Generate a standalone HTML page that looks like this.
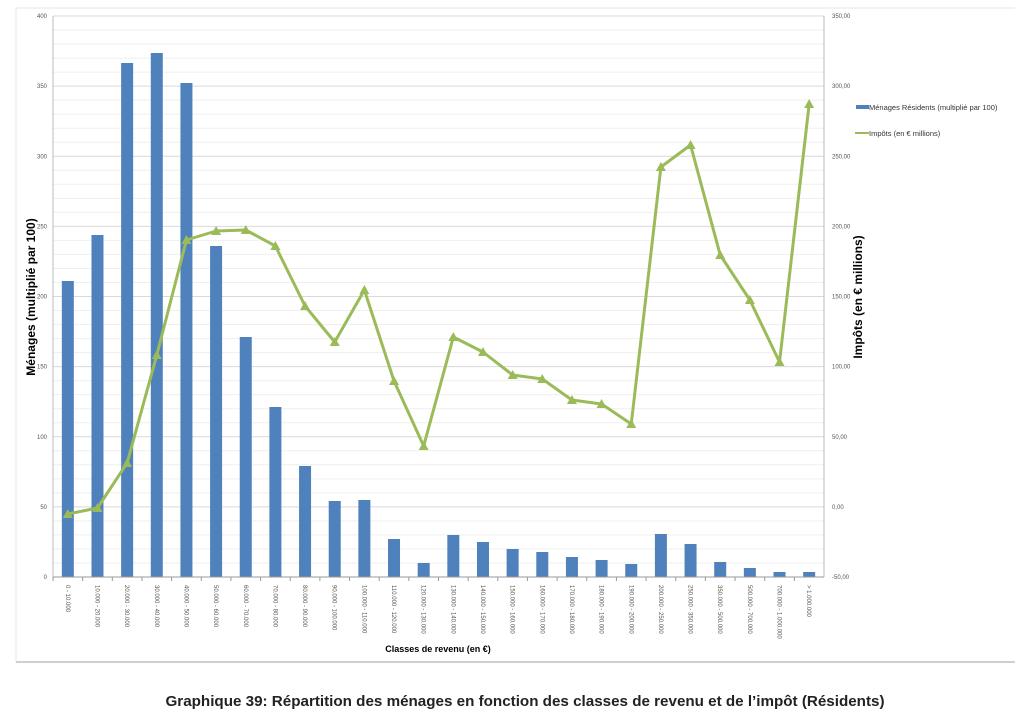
<!DOCTYPE html>
<html><head><meta charset="utf-8"><style>body{margin:0;background:#fff}svg{display:block}</style></head><body>
<svg width="1024" height="721" xmlns="http://www.w3.org/2000/svg" font-family="Liberation Sans, sans-serif">
<rect x="0" y="0" width="1024" height="721" fill="#fff"/>
<line x1="16" y1="8" x2="1015" y2="8" stroke="#e4e4e4"/>
<line x1="16" y1="8" x2="16" y2="662" stroke="#e4e4e4"/>
<line x1="16" y1="662" x2="1015" y2="662" stroke="#cfcfcf" stroke-width="2"/>
<g id="grid"></g>
<g id="bars"></g>
<line x1="53" y1="16" x2="53" y2="577" stroke="#bbb"/>
<line x1="824" y1="16" x2="824" y2="577" stroke="#bbb"/>
<line x1="53" y1="577" x2="824" y2="577" stroke="#999"/>
<g id="ticks" font-size="6" fill="#555"></g>
<polyline id="line" fill="none" stroke="#9bbb59" stroke-width="3" stroke-linejoin="round"/>
<g id="marks" fill="#9bbb59"></g>
<text transform="translate(35,297) rotate(-90)" text-anchor="middle" font-size="12" font-weight="bold">Ménages (multiplié par 100)</text>
<text transform="translate(862,297) rotate(-90)" text-anchor="middle" font-size="12" font-weight="bold">Impôts (en € millions)</text>
<text x="438" y="652" text-anchor="middle" font-size="9" font-weight="bold">Classes de revenu (en €)</text>
<rect x="856" y="105" width="13" height="4" fill="#4f81bd"/>
<text x="869" y="110" font-size="7.5" fill="#333">Ménages Résidents (multiplié par 100)</text>
<line x1="855" y1="133" x2="869" y2="133" stroke="#9bbb59" stroke-width="2"/>
<text x="869" y="136" font-size="7.5" fill="#333">Impôts (en € millions)</text>
<text x="525" y="706" text-anchor="middle" font-size="15.2" font-weight="bold" fill="#222">Graphique 39: Répartition des ménages en fonction des classes de revenu et de l’impôt (Résidents)</text>
<script>
(function(){
var ns="http://www.w3.org/2000/svg";
function el(p,t,a,txt){var e=document.createElementNS(ns,t);for(var k in a)e.setAttribute(k,a[k]);if(txt!=null)e.textContent=txt;document.getElementById(p).appendChild(e);}
var yt=16,bot=577,h=bot-yt;
for(var i=0;i<=40;i++){var y=bot-h*i/40;el("grid","line",{x1:53,x2:824,y1:y,y2:y,stroke:i%5==0?"#d9d9d9":"#efefef"});}
for(var i=0;i<=8;i++){var y=bot-h*i/8;
el("ticks","text",{x:47,y:y+2,"text-anchor":"end"},String(i*50));
el("ticks","text",{x:832,y:y+2},((i*50-50).toFixed(2)).replace(".",","));}
var labs=["0 - 10.000","10.000 - 20.000","20.000 - 30.000","30.000 - 40.000","40.000 - 50.000","50.000 - 60.000","60.000 - 70.000","70.000 - 80.000","80.000 - 90.000","90.000 - 100.000","100.000 - 110.000","110.000 - 120.000","120.000 - 130.000","130.000 - 140.000","140.000 - 150.000","150.000 - 160.000","160.000 - 170.000","170.000 - 180.000","180.000 - 190.000","190.000 - 200.000","200.000 - 250.000","250.000 - 350.000","350.000 - 500.000","500.000 - 700.000","700.000 - 1.000.000","> 1.000.000"];
var bt=[281,235,63,53,83,246,337,407,466,501,500,539,563,535,542,549,552,557,560,564,534,544,562,568,572,572];
var ly=[514,508,463,355,240,231,230,246,306,342,290,381,446,337,352,375,379,400,404,424,167,145,255,300,362,104];
var w=771/26,pts=[];
for(var i=0;i<26;i++){var cx=53+w*(i+0.5);
el("bars","rect",{x:cx-6,y:bt[i],width:12,height:bot-bt[i],fill:"#4f81bd"});
el("ticks","line",{x1:53+w*i,x2:53+w*i,y1:577,y2:581,stroke:"#999"});
el("ticks","text",{transform:"translate("+(cx-2)+",585) rotate(90)"},labs[i]);
pts.push(cx+","+ly[i]);
el("marks","polygon",{points:(cx-5)+","+(ly[i]+4)+" "+(cx+5)+","+(ly[i]+4)+" "+cx+","+(ly[i]-5)});}
document.getElementById("line").setAttribute("points",pts.join(" "));
})();
</script>
</svg>
</body></html>
